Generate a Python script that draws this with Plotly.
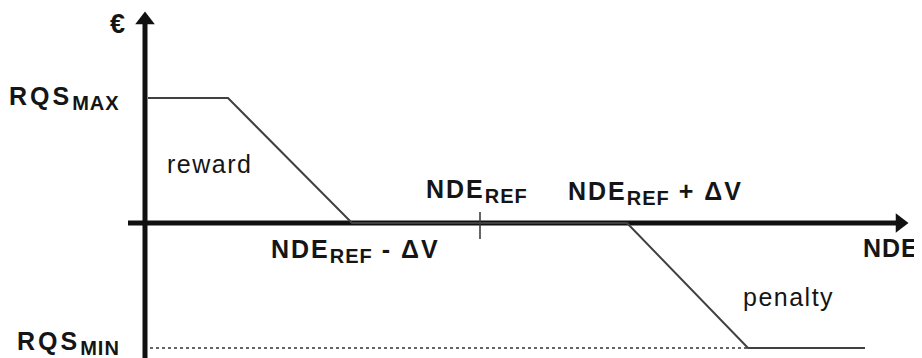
import plotly.graph_objects as go

# schematic values: x is NDE, y is €, origin where the two axes cross
nde_ref = 335
nde_low = 207      # NDE_REF - ΔV
nde_high = 482     # NDE_REF + ΔV
rqs_max = 125
rqs_min = -125

# reward / penalty curve
curve_x = [3, 83, nde_low, nde_high, 603, 720]
curve_y = [rqs_max, rqs_max, 0, 0, rqs_min, rqs_min]

# dotted guide at RQS_MIN
guide_x = [5, 603]
guide_y = [rqs_min, rqs_min]

# axes
xaxis_x = [-17, 752]
yaxis_y = [-140, 200]

font_b = dict(family="Liberation Sans, Arial", size=25, color="#151515")
font_r = dict(family="Liberation Sans, Arial", size=25, color="#151515")


def wide(s, sp=2):
    return '<span style="letter-spacing:%spx">%s</span>' % (sp, s)


def sub(s):
    return '<sub><span style="font-size:20px">%s</span></sub>' % s


fig = go.Figure()

# axis lines
fig.add_trace(go.Scatter(x=xaxis_x, y=[0, 0], mode="lines",
                         line=dict(color="#111111", width=5), hoverinfo="skip"))
fig.add_trace(go.Scatter(x=[0, 0], y=yaxis_y, mode="lines",
                         line=dict(color="#111111", width=5), hoverinfo="skip"))
# arrow heads
fig.add_trace(go.Scatter(x=[xaxis_x[1] + 3], y=[0], mode="markers",
                         marker=dict(symbol="triangle-right", size=17, color="#111111"),
                         hoverinfo="skip"))
fig.add_trace(go.Scatter(x=[0], y=[yaxis_y[1] + 3], mode="markers",
                         marker=dict(symbol="triangle-up", size=17, color="#111111"),
                         hoverinfo="skip"))

# tick at NDE_REF
fig.add_trace(go.Scatter(x=[nde_ref, nde_ref], y=[11, -16], mode="lines",
                         line=dict(color="#333333", width=1.5), hoverinfo="skip"))

# dotted RQS_MIN line
fig.add_trace(go.Scatter(x=guide_x, y=guide_y, mode="lines",
                         line=dict(color="#333333", width=1.5, dash="dot"), hoverinfo="skip"))

# curve
fig.add_trace(go.Scatter(x=curve_x, y=curve_y, mode="lines",
                         line=dict(color="#404040", width=2), hoverinfo="skip"))

labels = [
    ("<b>€</b>", -28, 199, "center", dict(font_b, size=27)),
    ("<b>" + wide("RQS", 3) + sub(wide("MAX", 1)) + "</b>", -23, rqs_max, "right", font_b),
    ("<b>" + wide("RQS", 3) + sub(wide("MIN", 1)) + "</b>", -23, rqs_min + 5, "right", font_b),
    (wide("reward", 1.5), 64, 59, "center", font_r),
    (wide("penalty", 1.5), 643, -74, "center", font_r),
    ("<b>" + wide("NDE") + sub(wide("REF", 1)) + "</b>", 332, 32, "center", font_b),
    ("<b>" + wide("NDE") + sub(wide("REF", 1)) + wide(" + ΔV") + "</b>", 510, 30, "center", font_b),
    ("<b>" + wide("NDE") + sub(wide("REF", 1)) + wide(" - ΔV") + "</b>", 210, -28, "center", font_b),
    ("<b>" + wide("NDE", 1) + "</b>", 746, -25, "center", font_b),
]
for text, x, y, xa, f in labels:
    fig.add_annotation(x=x, y=y, text=text, showarrow=False,
                       xanchor=xa, yanchor="middle", font=f)

# page body keeps an 8px margin, so the figure is 8px smaller and starts at (8, 8)
fig.update_layout(
    width=914, height=350,
    margin=dict(l=0, r=0, t=0, b=0),
    paper_bgcolor="white", plot_bgcolor="white",
    showlegend=False,
    xaxis=dict(range=[-137, 777], visible=False),
    yaxis=dict(range=[-135, 215], visible=False),
)

fig.write_html("out.html")
